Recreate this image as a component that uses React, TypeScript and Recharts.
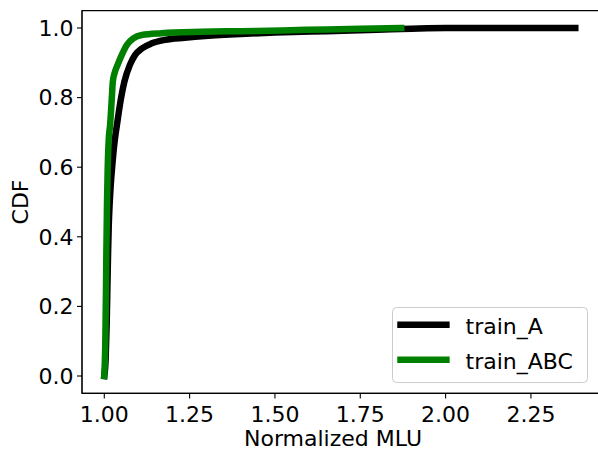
import React from 'react';
import { LineChart, Line, XAxis, YAxis, Legend, ReferenceArea, Label } from 'recharts';

const seriesNames = ['train_A', 'train_ABC'];
const seriesColors = ['#000000', '#008000'];

const trainA_mlu = [1.0, 1.004, 1.007, 1.009, 1.011, 1.013, 1.016, 1.019, 1.023, 1.031, 1.037, 1.049, 1.059, 1.075, 1.09, 1.11, 1.139, 1.178, 1.236, 1.295, 1.4, 1.5, 1.65, 1.8, 1.9, 2.0, 2.38];
const trainA_cdf = [0.0, 0.05, 0.15, 0.25, 0.35, 0.43, 0.5, 0.55, 0.6, 0.68, 0.721, 0.798, 0.846, 0.894, 0.922, 0.941, 0.956, 0.966, 0.972, 0.977, 0.983, 0.987, 0.991, 0.995, 0.998, 1.0, 1.0];

const trainABC_mlu = [1.0, 1.003, 1.005, 1.006, 1.008, 1.01, 1.013, 1.017, 1.022, 1.025, 1.03, 1.039, 1.051, 1.066, 1.085, 1.11, 1.168, 1.285, 1.4, 1.52, 1.65, 1.75, 1.87];
const trainABC_cdf = [0.0, 0.1, 0.25, 0.35, 0.5, 0.6, 0.68, 0.721, 0.798, 0.846, 0.87, 0.894, 0.922, 0.951, 0.97, 0.98, 0.985, 0.989, 0.991, 0.993, 0.996, 0.998, 1.0];

const xTicks = [1.0, 1.25, 1.5, 1.75, 2.0, 2.25];
const yTicks = [0, 0.2, 0.4, 0.6, 0.8, 1.0];
const xDomain: [number, number] = [0.9347, 2.4524];
const yDomain: [number, number] = [-0.05, 1.05];

const xLabel = 'Normalized MLU';
const yLabel = 'CDF';

const FONT = 'DejaVu Sans';
const textStyle = { fontSize: 22, fontFamily: FONT, fill: '#000' };

const toPoints = (xs: number[], ys: number[]) => xs.map((x, i) => ({ x, y: ys[i] }));
const seriesData = [toPoints(trainA_mlu, trainA_cdf), toPoints(trainABC_mlu, trainABC_cdf)];

const renderLegend = (props: any) => {
  const payload = props.payload || [];
  return (
    <svg width={197} height={77} style={{ display: 'block', overflow: 'visible' }}>
      <rect x={0.5} y={0.5} width={195} height={75} rx={4} ry={4} fill="#ffffff" fillOpacity={0.8} stroke="#cccccc" strokeWidth={1} />
      {payload.map((p: any, i: number) => {
        const cy = 17.7 + i * 35;
        return (
          <g key={i}>
            <line x1={8.5} x2={54.4} y1={cy} y2={cy} stroke={p.color} strokeWidth={6.5} strokeLinecap="square" />
            <text x={73.5} y={cy + 9.3} style={textStyle}>{p.value}</text>
          </g>
        );
      })}
    </svg>
  );
};

const renderXLabel = (props: any) => {
  const vb = props && props.viewBox && props.viewBox.width ? props.viewBox : { x: 82, y: 393.4, width: 518, height: 61.6 };
  return (
    <text x={vb.x + vb.width / 2 - 8} y={vb.y + 53} textAnchor="middle" style={textStyle}>
      {xLabel}
    </text>
  );
};

const renderYLabel = (props: any) => {
  const vb = props && props.viewBox && props.viewBox.height ? props.viewBox : { x: 0, y: 10.6, width: 82, height: 382.8 };
  const cx = 28;
  const cy = vb.y + vb.height / 2;
  return (
    <text x={cx} y={cy} transform={`rotate(-90, ${cx}, ${cy})`} textAnchor="middle" style={textStyle}>
      {yLabel}
    </text>
  );
};

export default function App() {
  return (
    <div style={{ position: 'absolute', left: 0, top: 0, width: 598, height: 455, overflow: 'hidden', background: '#fff' }}>
      <LineChart width={620} height={455} margin={{ top: 10.6, right: 20, bottom: 0, left: 0 }}>
        <XAxis
          type="number"
          dataKey="x"
          domain={xDomain}
          ticks={xTicks}
          allowDataOverflow
          height={61.6}
          tickSize={5}
          tickMargin={7.5}
          tickFormatter={(v: number) => v.toFixed(2)}
          tick={{ fontSize: 22, fill: '#000', fontFamily: FONT }}
          axisLine={{ stroke: '#000', strokeWidth: 1.1 }}
          tickLine={{ stroke: '#000', strokeWidth: 1.1 }}
        >
          <Label content={renderXLabel} />
        </XAxis>
        <YAxis
          type="number"
          dataKey="y"
          domain={yDomain}
          ticks={yTicks}
          allowDataOverflow
          width={82}
          tickSize={5}
          tickMargin={3.5}
          tickFormatter={(v: number) => v.toFixed(1)}
          tick={{ fontSize: 22, fill: '#000', fontFamily: FONT }}
          axisLine={{ stroke: '#000', strokeWidth: 1.1 }}
          tickLine={{ stroke: '#000', strokeWidth: 1.1 }}
        >
          <Label content={renderYLabel} />
        </YAxis>
        <ReferenceArea x1={xDomain[0]} x2={xDomain[1]} y1={yDomain[0]} y2={yDomain[1]} fill="none" stroke="#000" strokeWidth={1.1} ifOverflow="visible" />
        {seriesData.map((d, i) => (
          <Line
            key={seriesNames[i]}
            data={d}
            dataKey="y"
            name={seriesNames[i]}
            type="monotone"
            stroke={seriesColors[i]}
            strokeWidth={6.5}
            strokeLinecap="square"
            strokeLinejoin="round"
            dot={false}
            activeDot={false}
            isAnimationActive={false}
          />
        ))}
        <Legend
          layout="horizontal"
          verticalAlign="middle"
          align="center"
          content={renderLegend}
          wrapperStyle={{ position: 'absolute', left: 391.7, top: 307.3, width: 197, height: 77, margin: 0, padding: 0 }}
        />
      </LineChart>
    </div>
  );
}
